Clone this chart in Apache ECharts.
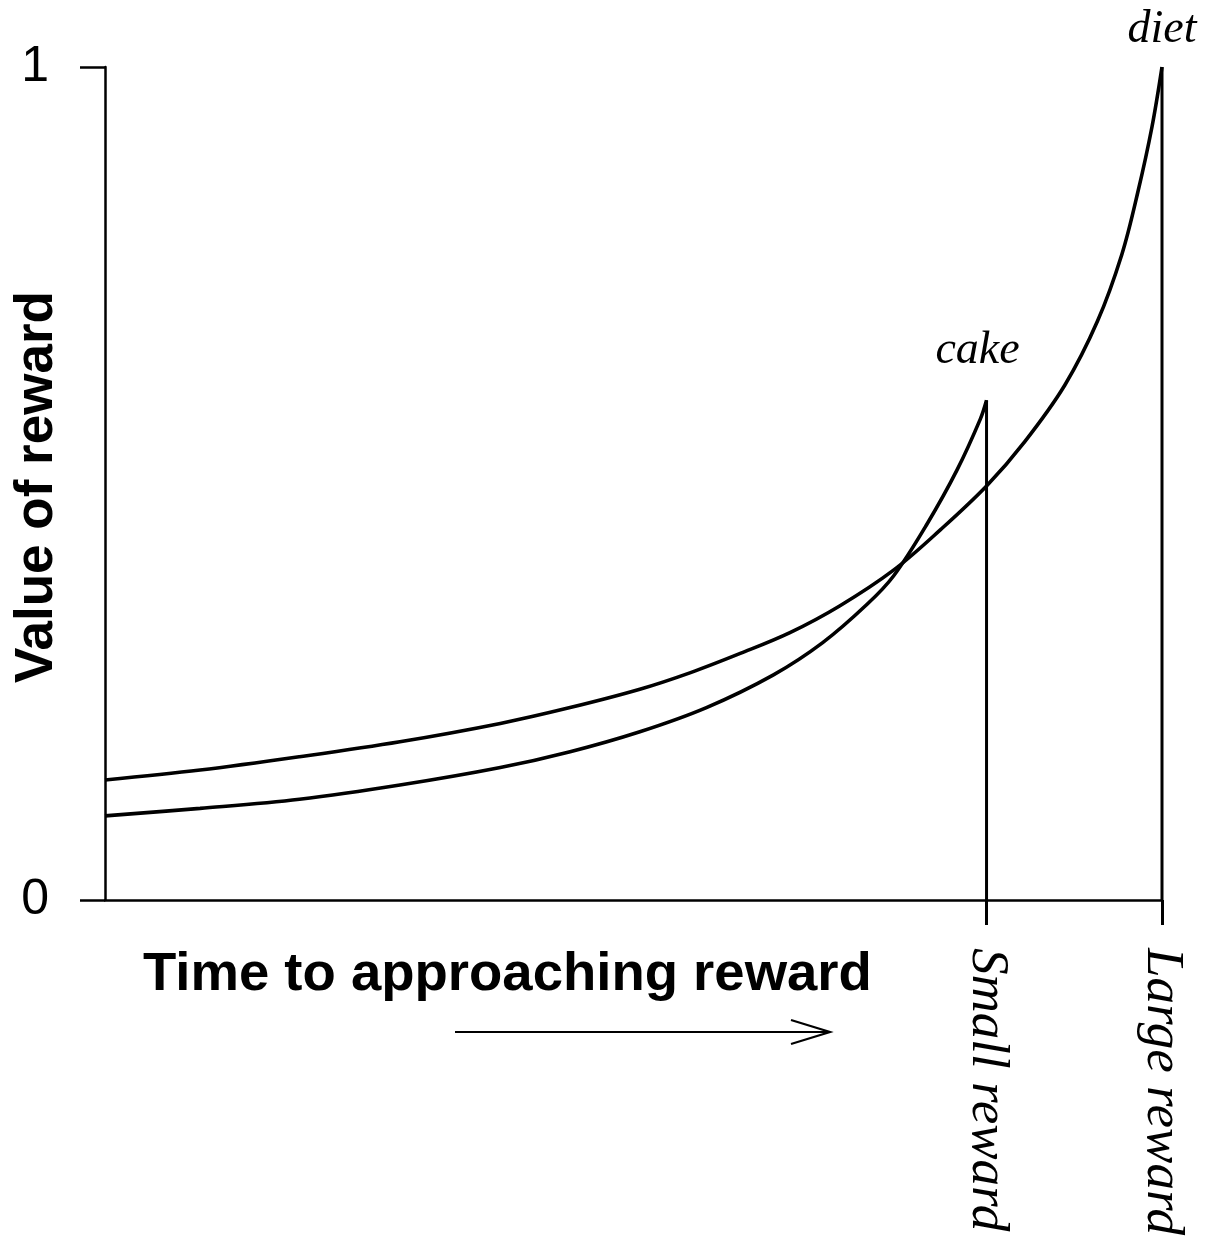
<!DOCTYPE html>
<html>
<head>
<meta charset="utf-8">
<title>Value of reward</title>
<script src="https://cdn.jsdelivr.net/npm/echarts@6.0.0/dist/echarts.min.js"></script>
<style>
  html, body { margin: 0; padding: 0; background: #fff; }
  #chart { width: 1205px; height: 1255px; }
</style>
</head>
<body>
<div id="chart"></div>
<script>
// large reward (diet) curve
const timeLarge = [0, 9.0, 18.4, 27.9, 37.4, 44.0, 50.6, 55.4, 60.1, 64.8, 69.5, 74.6, 79.0, 83.4, 87.0, 90.8, 93.9, 96.2, 97.7, 99.05, 100];
const valueLarge = [0.144, 0.156, 0.172, 0.190, 0.212, 0.231, 0.253, 0.273, 0.296, 0.321, 0.353, 0.396, 0.444, 0.497, 0.550, 0.618, 0.695, 0.775, 0.849, 0.928, 1.0];

// small reward (cake) curve
const timeSmall = [0, 9.0, 18.4, 27.9, 37.4, 44.0, 50.6, 56.9, 63.2, 67.9, 72.1, 74.6, 77.8, 80.6, 82.8, 83.4];
const valueSmall = [0.101, 0.110, 0.121, 0.138, 0.159, 0.178, 0.202, 0.231, 0.270, 0.309, 0.355, 0.389, 0.452, 0.516, 0.577, 0.60];

// where the rewards arrive
const rewardTimes = [83.4, 100];
const rewardValues = [0.60, 1.0];
const rewardLabels = ["Small reward", "Large reward"];
const peakLabels = ["cake", "diet"];

const yTicks = [0, 1];

const chart = echarts.init(document.getElementById("chart"));

const pairs = (xs, ys) => xs.map((x, i) => [x, ys[i]]);

const black = "#000";
const sans = "Liberation Sans, Arial, sans-serif";
const serif = "Liberation Serif, Times New Roman, serif";

// vertical drop lines at each reward, label (cake / diet) on the peak
const dropSeries = rewardTimes.map((t, i) => ({
  type: "line",
  data: [
    {
      value: [t, rewardValues[i]],
      label: {
        show: true,
        formatter: peakLabels[i],
        position: "top",
        distance: i === 0 ? 26 : 14,
        offset: i === 0 ? [-9, 0] : [0, 0],
        fontFamily: serif,
        fontStyle: "italic",
        fontSize: 46,
        color: black,
      },
    },
    [t, 0],
  ],
  symbol: "circle",
  symbolSize: 0.1,
  lineStyle: { color: black, width: 3 },
  itemStyle: { color: black },
  silent: true,
  z: 3,
}));

const curveSeries = (name, xs, ys) => ({
  type: "line",
  name: name,
  data: pairs(xs, ys),
  smooth: 0.35,
  showSymbol: false,
  lineStyle: { color: black, width: 3.6 },
  silent: true,
  z: 2,
});

const option = {
  animation: false,
  backgroundColor: "#fff",
  grid: {
    left: 105, right: 43, top: 67, bottom: 355,
    containLabel: false,
    outerBoundsMode: "none",
  },
  xAxis: {
    type: "value",
    min: 0,
    max: 100,
    axisLine: { show: true, lineStyle: { color: black, width: 2.5 } },
    axisTick: {
      show: true,
      customValues: rewardTimes,
      length: 25,
      lineStyle: { color: black, width: 3 },
    },
    axisLabel: {
      show: true,
      customValues: rewardTimes,
      formatter: (v) => rewardLabels[rewardTimes.indexOf(v)] || "",
      rotate: -90,
      margin: 48,
      fontFamily: serif,
      fontStyle: "italic",
      fontSize: 53,
      color: black,
    },
    splitLine: { show: false },
  },
  yAxis: {
    type: "value",
    min: 0,
    max: 1,
    interval: 1,
    axisLine: { show: true, lineStyle: { color: black, width: 2.5 } },
    axisTick: {
      show: true,
      customValues: yTicks,
      length: 25,
      lineStyle: { color: black, width: 2.5 },
    },
    axisLabel: {
      customValues: yTicks,
      margin: 56,
      fontFamily: sans,
      fontSize: 50,
      color: black,
    },
    splitLine: { show: false },
  },
  graphic: [
    {
      // y axis title, reads bottom to top
      type: "text",
      x: 37,
      y: 487,
      rotation: Math.PI / 2,
      style: {
        text: "Value of reward",
        font: "bold 53px " + sans,
        fill: black,
        align: "center",
        verticalAlign: "middle",
      },
    },
    {
      type: "text",
      left: 143,
      top: 947,
      style: {
        text: "Time to approaching reward",
        font: "bold 54.5px " + sans,
        fill: black,
      },
    },
    {
      type: "polyline",
      shape: { points: [[455, 1032], [830, 1032]] },
      style: { stroke: black, lineWidth: 2.2, fill: null },
    },
    {
      type: "polyline",
      shape: { points: [[791, 1020], [830, 1032], [791, 1044]] },
      style: { stroke: black, lineWidth: 2.2, fill: null },
    },
  ],
  series: [
    curveSeries("Large reward", timeLarge, valueLarge),
    curveSeries("Small reward", timeSmall, valueSmall),
    ...dropSeries,
  ],
};

chart.setOption(option);
</script>
</body>
</html>
